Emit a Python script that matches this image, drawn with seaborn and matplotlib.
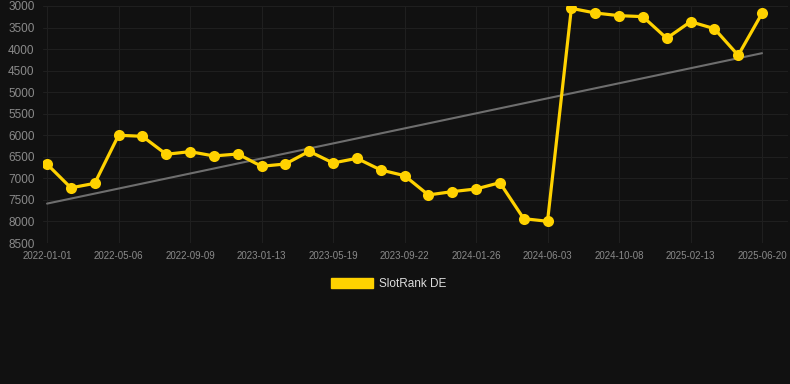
import pandas as pd
import numpy as np
import matplotlib
matplotlib.use('Agg')
import matplotlib.pyplot as plt
import seaborn as sns
from matplotlib.patches import Patch

# rank values (lower is better), one point per period
rank = [6670, 7220, 7115, 6000, 6024, 6441, 6380, 6480, 6434, 6720,
	6666, 6372, 6643, 6535, 6805, 6937, 7385, 7308, 7246, 7100,
	7935, 7996, 3054, 3162, 3224, 3247, 3750, 3364, 3526, 4145, 3170]
tick_labels = ["2022-01-01", "2022-05-06", "2022-09-09", "2023-01-13", "2023-05-19",
	"2023-09-22", "2024-01-26", "2024-06-03", "2024-10-08", "2025-02-13", "2025-06-20"]
series_name = "SlotRank DE"

df = pd.DataFrame({"idx": range(len(rank)), "rank": rank})

bg = "#111111"
gold = "#FFD200"
sns.set_style("dark", {"axes.facecolor": bg, "figure.facecolor": bg})
plt.rcParams['font.family'] = ['Liberation Sans', 'DejaVu Sans']

fig = plt.figure(figsize=(7.9, 3.84), dpi=100)
ax = fig.add_axes([43/790, 1-243/384, 745/790, 237/384])
ax.set_facecolor(bg)

# trend line
sns.regplot(x="idx", y="rank", data=df, scatter=False, ci=None, ax=ax,
	line_kws={"color": "#6e6e6e", "lw": 1.5, "zorder": 2})
sns.lineplot(x="idx", y="rank", data=df, ax=ax, color=gold, lw=2.3,
	marker="o", markersize=8, markeredgewidth=0, zorder=3)

ax.set_ylim(8500, 3000)
ax.set_xlim(-0.17, 31.09)
ax.set_yticks(range(3000, 8501, 500))
ax.set_xticks(range(0, len(rank), 3))
ax.set_xticklabels(tick_labels)
ax.grid(True, color="#1f1f1f", lw=0.8)
ax.tick_params(axis="y", colors="#8a8a8a", labelsize=8.5, length=0, pad=6)
ax.tick_params(axis="x", colors="#8a8a8a", labelsize=7, length=4, color="#1f1f1f", pad=2)
for s in ax.spines.values():
	s.set_visible(False)
ax.set_xlabel("")
ax.set_ylabel("")

fig.legend(handles=[Patch(facecolor=gold, edgecolor=gold, label=series_name)],
	loc="center", bbox_to_anchor=(0.492, 1-284/384), frameon=False,
	labelcolor="#dddddd", fontsize=8.5, handlelength=3.5, handleheight=1.0,
	handletextpad=0.5)

plt.savefig("out.png", dpi=100, facecolor=bg)
plt.close()
